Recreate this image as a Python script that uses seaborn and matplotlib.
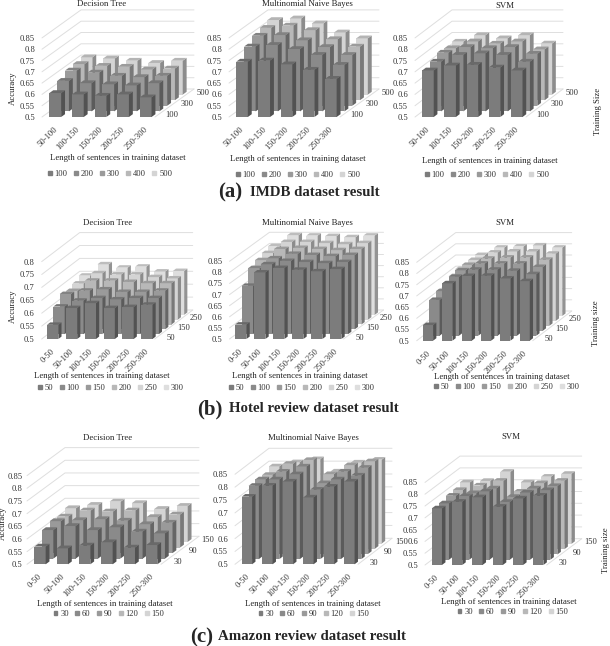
import numpy as np
import pandas as pd
import seaborn as sns
import matplotlib.pyplot as plt
from matplotlib.patches import Patch, Polygon
from matplotlib.colors import to_rgb

W_PX, H_PX = 610, 646

imdb_lengths = ['50-100', '100-150', '150-200', '200-250', '250-300']
hotel_lengths = ['0-50', '50-100', '100-150', '150-200', '200-250', '250-300']
amazon_lengths = ['0-50', '50-100', '100-150', '150-200', '200-250', '250-300']

imdb_sizes = ['100', '200', '300', '400', '500']
hotel_sizes = ['50', '100', '150', '200', '250', '300']
amazon_sizes = ['30', '60', '90', '120', '150']

# one list per training size, front row first
imdb_dt = [[.606, .600, .594, .600, .587],
           [.635, .625, .620, .615, .625],
           [.656, .647, .633, .627, .633],
           [.660, .652, .648, .636, .640],
           [.665, .660, .650, .640, .650]]
imdb_nb = [[.745, .750, .733, .709, .669],
           [.787, .794, .776, .750, .706],
           [.810, .813, .790, .760, .725],
           [.820, .830, .810, .770, .737],
           [.830, .837, .815, .775, .749]]
imdb_svm = [[.706, .728, .731, .719, .706],
            [.720, .750, .757, .750, .720],
            [.735, .760, .755, .760, .730],
            [.730, .760, .750, .760, .725],
            [.734, .763, .749, .763, .726]]

hotel_dt = [[.555, .620, .639, .620, .624, .633],
            [.607, .630, .640, .635, .640, .640],
            [.637, .650, .655, .645, .645, .650],
            [.630, .670, .670, .665, .660, .660],
            [.640, .680, .675, .675, .665, .660],
            [.652, .696, .683, .687, .668, .670]]
hotel_nb = [[.565, .800, .820, .812, .805, .815],
            [.718, .815, .830, .825, .820, .825],
            [.776, .820, .840, .835, .830, .835],
            [.790, .840, .845, .840, .835, .840],
            [.800, .850, .850, .845, .840, .845],
            [.810, .859, .857, .855, .850, .857]]
hotel_svm = [[.570, .756, .789, .790, .778, .766],
             [.660, .763, .795, .795, .790, .775],
             [.677, .770, .800, .800, .800, .785],
             [.690, .772, .800, .805, .805, .795],
             [.700, .772, .805, .810, .810, .800],
             [.710, .772, .805, .810, .815, .805]]

amazon_dt = [[.570, .563, .574, .587, .566, .576],
             [.613, .629, .613, .624, .607, .600],
             [.626, .630, .634, .628, .614, .620],
             [.622, .646, .642, .646, .620, .630],
             [.633, .646, .659, .653, .630, .642]]
amazon_nb = [[.763, .806, .822, .760, .802, .822],
             [.785, .810, .830, .770, .810, .825],
             [.790, .820, .840, .775, .820, .835],
             [.787, .830, .845, .790, .825, .840],
             [.800, .816, .828, .780, .815, .826]]
amazon_svm = [[.740, .768, .787, .747, .782, .794],
              [.739, .770, .790, .745, .785, .795],
              [.749, .760, .780, .744, .780, .790],
              [.751, .770, .790, .744, .780, .790],
              [.761, .767, .806, .761, .785, .797]]

# grey of each training size, front to back
greys = ['#7c7c7c', '#8a8a8a', '#9a9a9a', '#b8b8b8', '#d4d4d4', '#dedede']

# x0, y0 = front left floor corner, w = wall width, unit = px per 0.05
# dx, dy = full depth of the box in px
panels = [
    dict(data=imdb_dt, cats=imdb_lengths, sizes=imdb_sizes, x0=42, y0=117, w=113, unit=11.3, dx=39, dy=28, top=.85, bw=.52,
         title=(102, 4, 'Decision Tree'), xlab=(118, 158), leg=(110, 174)),
    dict(data=imdb_nb, cats=imdb_lengths, sizes=imdb_sizes, x0=229, y0=117, w=111, unit=11.3, dx=39, dy=28, top=.85, bw=.52,
         title=(307, 4, 'Multinomial Naive Bayes'), xlab=(298, 159), leg=(298, 175)),
    dict(data=imdb_svm, cats=imdb_lengths, sizes=imdb_sizes, x0=415, y0=117, w=111, unit=11.3, dx=37, dy=28, top=.85, bw=.52,
         title=(505, 6, 'SVM'), xlab=(490, 161), leg=(487, 175)),
    dict(data=hotel_dt, cats=hotel_lengths, sizes=hotel_sizes, x0=41.7, y0=339, w=113, unit=12.9, dx=38, dy=29, top=.8, bw=.6,
         title=(108, 223, 'Decision Tree'), xlab=(102, 376), leg=(111, 388)),
    dict(data=hotel_nb, cats=hotel_lengths, sizes=hotel_sizes, x0=229.5, y0=339, w=114, unit=11.1, dx=40, dy=29, top=.85, bw=.6,
         title=(307, 223, 'Multinomial Naive Bayes'), xlab=(300, 376), leg=(302, 388)),
    dict(data=hotel_svm, cats=hotel_lengths, sizes=hotel_sizes, x0=416.7, y0=340.7, w=116, unit=11.2, dx=39, dy=29.7, top=.85, bw=.53,
         title=(505, 223, 'SVM'), xlab=(502, 377), leg=(507, 387)),
    dict(data=amazon_dt, cats=amazon_lengths, sizes=amazon_sizes, x0=27, y0=564.3, w=134, unit=12.67, dx=38, dy=28, top=.85, bw=.5,
         title=(108, 438, 'Decision Tree'), xlab=(105, 604), leg=(109, 614), ypad=3.4),
    dict(data=amazon_nb, cats=amazon_lengths, sizes=amazon_sizes, x0=235, y0=564.3, w=123, unit=12.86, dx=34, dy=26, top=.85, bw=.5,
         title=(313, 438, 'Multinomial Naive Bayes'), xlab=(313, 604), leg=(314, 614)),
    dict(data=amazon_svm, cats=amazon_lengths, sizes=amazon_sizes, x0=425, y0=565, w=121.7, unit=11.8, dx=35, dy=26.3, top=.85, bw=.5,
         title=(511, 437, 'SVM'), xlab=(509, 602), leg=(513, 612)),
]


def fx(x):
    return x / W_PX


def fy(y):
    return 1 - y / H_PX


def draw_panel(fig, p):
    n = len(p['cats'])
    rows = len(p['sizes'])
    yticks = np.arange(0.5, p['top'] + 0.001, 0.05)
    height = p['unit'] * (len(yticks) - 1)
    ax = fig.add_axes([fx(p['x0']), fy(p['y0']), p['w'] / W_PX, height / H_PX])
    ax.patch.set_visible(False)

    # depth in data units
    cat_px = p['w'] / n
    full_dx = p['dx'] / cat_px
    full_dy = p['dy'] / p['unit'] * 0.05
    row_dx = full_dx / rows
    row_dy = full_dy / rows

    # walls
    line = dict(color='#dedede', lw=0.7, zorder=0.5, clip_on=False)
    for t in yticks:
        ax.plot([-0.5, -0.5 + full_dx, n - 0.5 + full_dx],
                [t, t + full_dy, t + full_dy], **line)
    ax.plot([n - 0.5, n - 0.5 + full_dx], [0.5, 0.5 + full_dy], **line)

    # back row first so the front rows cover it
    for r in range(rows - 1, -1, -1):
        df = pd.DataFrame({'length': p['cats'], 'acc': p['data'][r]})
        sns.barplot(data=df, x='length', y='acc', order=p['cats'], color=greys[r],
                    saturation=1, width=p['bw'], linewidth=0, ax=ax, clip_on=False)
        c = np.array(to_rgb(greys[r]))
        off_x = (r + 0.25) * row_dx
        off_y = r * row_dy
        for bar, val in zip(ax.containers[-1], p['data'][r]):
            xl = bar.get_x() + off_x
            xr = xl + bar.get_width()
            yb = 0.5 + off_y
            yt = yb + val - 0.5
            bar.set_x(xl)
            bar.set_y(yb)
            bar.set_height(val - 0.5)
            ddx = row_dx * 0.5
            ddy = row_dy * 0.5
            ax.add_patch(Polygon([(xr, yb), (xr + ddx, yb + ddy), (xr + ddx, yt + ddy), (xr, yt)],
                                 fc=c * 0.66, ec='none', clip_on=False))
            ax.add_patch(Polygon([(xl, yt), (xr, yt), (xr + ddx, yt + ddy), (xl + ddx, yt + ddy)],
                                 fc=c * 0.85, ec='none', clip_on=False))

    ax.set_xlim(-0.5, n - 0.5)
    ax.set_ylim(0.5, p['top'])
    ax.set_xlabel('')
    ax.set_ylabel('')
    ax.set_yticks(yticks)
    ax.set_yticklabels([f'{t:.2f}'.rstrip('0') for t in yticks])
    ax.set_xticks(range(n))
    ax.set_xticklabels(p['cats'], rotation=45, ha='right', rotation_mode='anchor')
    ax.tick_params(axis='x', length=0, pad=6, labelsize=6.2, colors='#333333')
    ax.tick_params(axis='y', length=0, pad=p.get('ypad', 5), labelsize=6.1, colors='#333333')
    sns.despine(ax=ax, left=True, bottom=True)

    # depth axis labels, every other row
    for r in range(0, rows, 2):
        if r > 4:
            continue
        lx = n - 0.5 + (r + 0.5) * row_dx + 13 / cat_px
        ly = 0.5 + (r + 0.5) * row_dy - 0.05 / p['unit']
        ax.text(lx, ly, p['sizes'][r], ha='center', va='center', fontsize=6.1, color='#333333')

    tx, ty, label = p['title']
    fig.text(fx(tx), fy(ty), label, ha='center', va='center', fontsize=6.3, color='#222222')
    fig.text(fx(p['xlab'][0]), fy(p['xlab'][1]), 'Length of sentences in training dataset',
             ha='center', va='center', fontsize=6.3, color='#222222')
    handles = [Patch(color=greys[i], label=s) for i, s in enumerate(p['sizes'])]
    fig.legend(handles=handles, ncol=rows, loc='center', bbox_to_anchor=(fx(p['leg'][0]), fy(p['leg'][1])),
               frameon=False, fontsize=6.1, handlelength=0.45, handleheight=0.45, handletextpad=0.35,
               columnspacing=0.75, borderpad=0, labelcolor='#333333')


sns.set_style('white')
plt.rcParams['font.family'] = ['Liberation Serif', 'DejaVu Serif']

fig = plt.figure(figsize=(W_PX / 100, H_PX / 100), dpi=100)
for p in panels:
    draw_panel(fig, p)

# side labels
for x, y, s in [(13, 88, 'Accuracy'), (13, 306, 'Accuracy'), (3, 523, 'Accuracy')]:
    fig.text(fx(x), fy(y), s, rotation=90, ha='center', va='center', fontsize=6.3, color='#222222')
for x, y, s in [(598, 111, 'Training Size'), (596, 323, 'Training size'), (606, 550, 'Training size')]:
    fig.text(fx(x), fy(y), s, rotation=90, ha='center', va='center', fontsize=6.3, color='#222222')

# captions
for x1, x2, y, tag, name in [(218, 250, 192, '(a)', 'IMDB dataset result'),
                             (197, 229, 409, '(b)', 'Hotel review dataset result'),
                             (190, 218, 637, '(c)', 'Amazon review dataset result')]:
    fig.text(fx(x1), fy(y), tag, ha='left', va='center', fontsize=15, fontweight='bold')
    fig.text(fx(x2), fy(y), name, ha='left', va='center', fontsize=10.7, fontweight='bold')

fig.savefig('out.png', dpi=100, facecolor='white')
